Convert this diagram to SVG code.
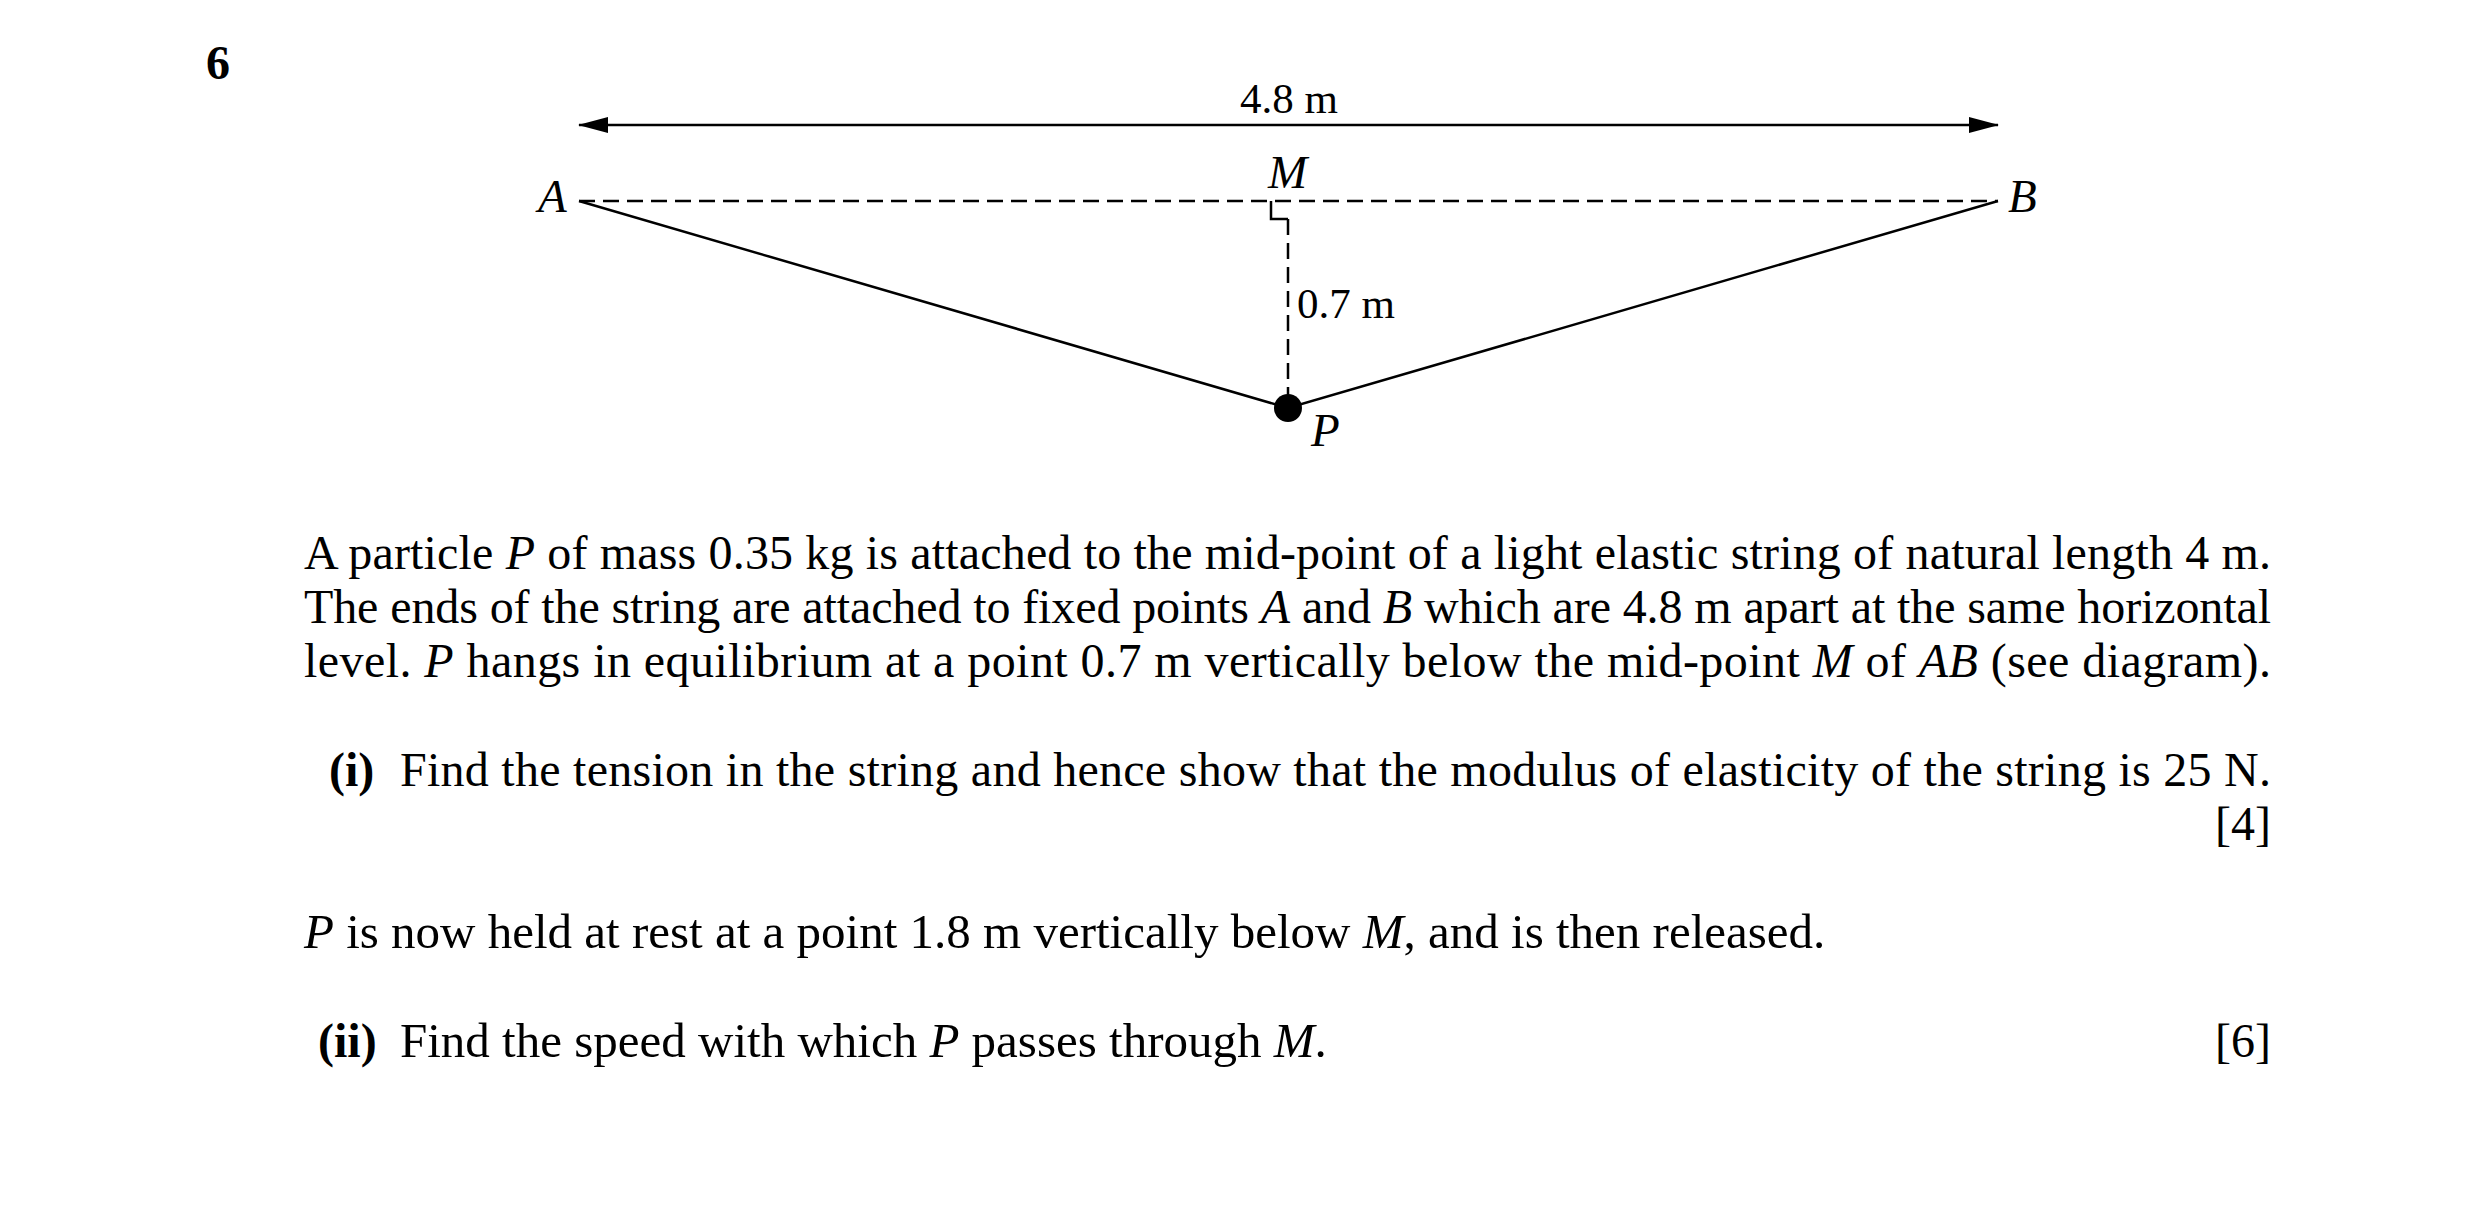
<svg xmlns="http://www.w3.org/2000/svg" width="2480" height="1213" viewBox="0 0 2480 1213">
<style>
text{font-family:"Liberation Serif","Times New Roman",serif;font-size:48px;fill:#000}
.f{font-size:49px}
.l{font-size:43px}
.n{font-size:47px}
.i{font-style:italic}
.b{font-weight:bold}
.s{stroke:#000;stroke-width:2.5;fill:none}
.d{stroke:#000;stroke-width:2.5;fill:none;stroke-dasharray:16 8}
</style>
<defs><marker id="ah" markerWidth="30" markerHeight="16" refX="29" refY="8" orient="auto-start-reverse" markerUnits="userSpaceOnUse" viewBox="0 0 30 16"><path d="M0,0 L30,8 L0,16z" fill="#000"/></marker></defs>
<rect width="2480" height="1213" fill="#fff"/>
<text x="206" y="79" class="b">6</text>
<g id="connectors">
<line x1="579" y1="125" x2="1998" y2="125" stroke="#000" stroke-width="2.5" marker-start="url(#ah)" marker-end="url(#ah)"/>
<line x1="579" y1="201" x2="1998" y2="201" class="d"/>
<line x1="1288" y1="219" x2="1288" y2="400" class="d" stroke-dasharray="24 8" stroke-width="2"/>
<polyline points="579,201 1288,408 1998,201" class="s"/>
<polyline points="1271,201 1271,219 1288,219" class="s" stroke-width="2"/>
</g>
<g id="A"><text x="538" y="212" class="n i">A</text></g>
<g id="B"><text x="2008" y="212" class="n i">B</text></g>
<g id="M"><text x="1268" y="188" class="n i">M</text></g>
<g id="P"><circle cx="1288" cy="408" r="14"/><text x="1311" y="446" class="n i">P</text></g>
<text x="1289" y="113" class="l" text-anchor="middle">4.8 m</text>
<text x="1297" y="318" class="l">0.7 m</text>
<text x="304" y="569" textLength="1967" lengthAdjust="spacing">A particle <tspan class="i">P</tspan> of mass 0.35 kg is attached to the mid-point of a light elastic string of natural length 4 m.</text>
<text x="304" y="623" textLength="1967" lengthAdjust="spacing">The ends of the string are attached to fixed points <tspan class="i">A</tspan> and <tspan class="i">B</tspan> which are 4.8 m apart at the same horizontal</text>
<text x="304" y="677" textLength="1967" lengthAdjust="spacing">level.  <tspan class="i">P</tspan> hangs in equilibrium at a point 0.7 m vertically below the mid-point <tspan class="i">M</tspan> of <tspan class="i">AB</tspan> (see diagram).</text>
<text x="329" y="786" class="b">(i)</text>
<text x="400" y="786" textLength="1871" lengthAdjust="spacing">Find the tension in the string and hence show that the modulus of elasticity of the string is 25 N.</text>
<text x="2271" y="840" text-anchor="end">[4]</text>
<text x="304" y="948" class="f"><tspan class="i">P</tspan> is now held at rest at a point 1.8 m vertically below <tspan class="i">M</tspan>, and is then released.</text>
<text x="318" y="1057" class="b">(ii)</text>
<text x="400" y="1057" class="f">Find the speed with which <tspan class="i">P</tspan> passes through <tspan class="i">M</tspan>.</text>
<text x="2271" y="1057" text-anchor="end">[6]</text>
</svg>
